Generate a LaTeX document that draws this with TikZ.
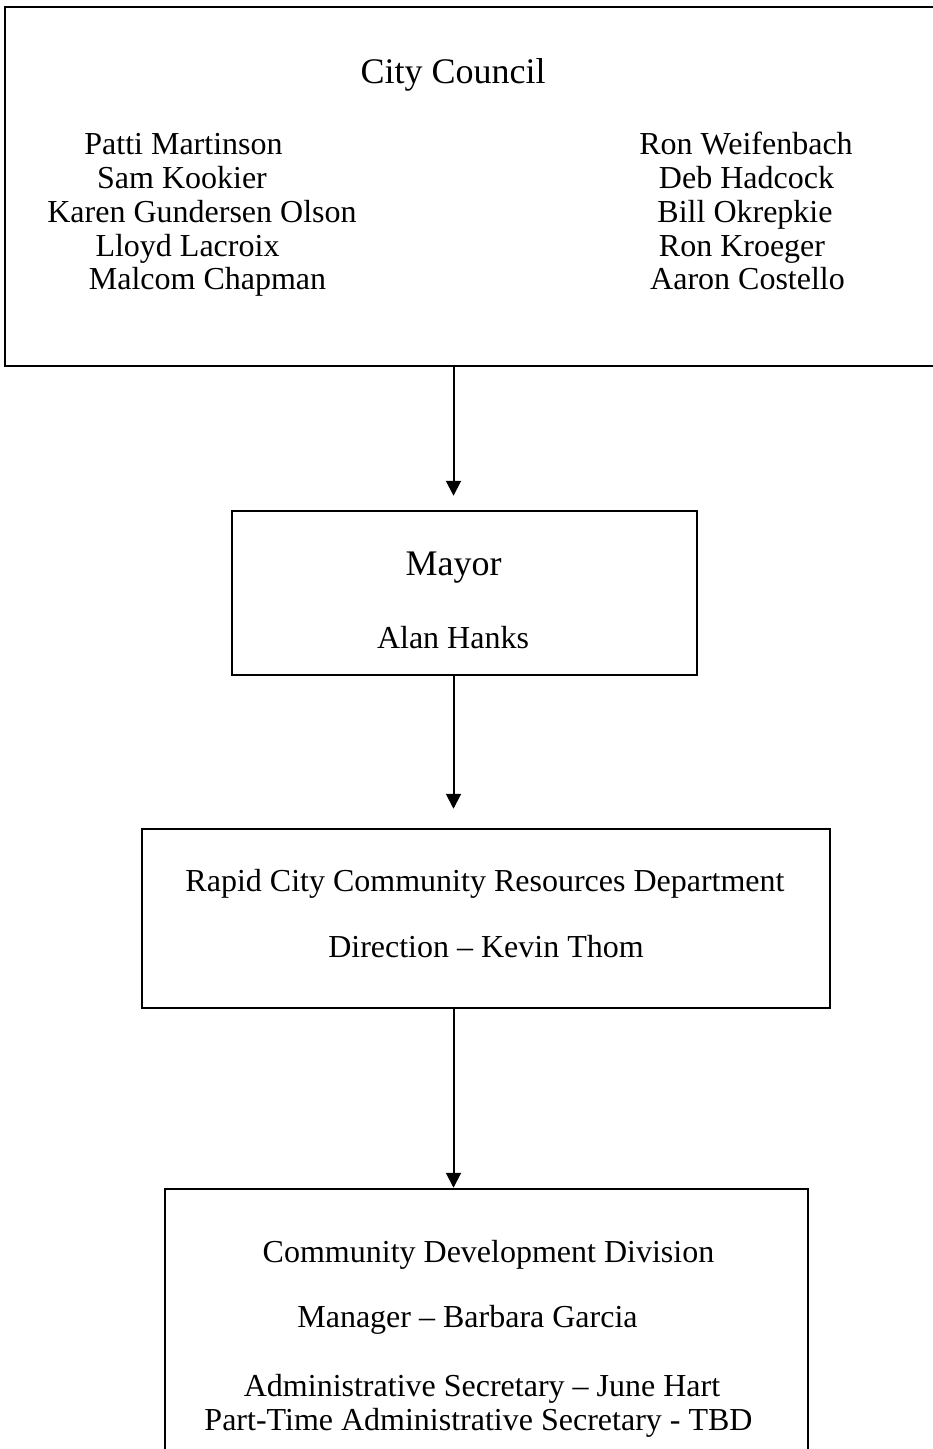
\documentclass[tikz,border=0pt]{standalone}
\usepackage{fontspec}
\setmainfont{Liberation Serif}
\usetikzlibrary{arrows.meta}

\begin{document}
\begin{tikzpicture}[x=0.5pt,y=-0.5pt]

      \tikzset{unit/.style={draw, line width=1.25pt, inner sep=0pt},
               txt/.style={anchor=base, inner sep=0pt, font=\fontsize{16}{17}\selectfont},
               head/.style={anchor=base, inner sep=0pt, font=\fontsize{18}{20}\selectfont},
               flow/.style={line width=1pt, -{Triangle[length=7.5pt,width=7.5pt]}}}
      \useasboundingbox (0,0) rectangle (932,1449);
%% Boxes
      	\node[unit, minimum width=470pt, minimum height=179.5pt] (council) at (475,186.5) {};
      	\node[unit, minimum width=232.5pt, minimum height=82pt] (mayor) at (464.5,593) {};
      	\node[unit, minimum width=344pt, minimum height=89.5pt] (dept) at (486,918.5) {};
      	\node[unit, minimum width=321.5pt, minimum height=135.5pt] (division) at (486.5,1324.5) {};
      	\coordinate (spine) at (453.5,0);

%% Texts
      	\node[head] (councilhead) at (453,84) {City Council};
      	\node[txt] (m1) at (183.5,155) {Patti Martinson};
      	\node[txt] (m2) at (182,189) {Sam Kookier};
      	\node[txt] (m3) at (202,223) {Karen Gundersen Olson};
      	\node[txt] (m4) at (187.5,257) {Lloyd Lacroix};
      	\node[txt] (m5) at (207.5,290) {Malcom Chapman};
      	\node[txt] (m6) at (746,155) {Ron Weifenbach};
      	\node[txt] (m7) at (746.5,189) {Deb Hadcock};
      	\node[txt] (m8) at (745,223) {Bill Okrepkie};
      	\node[txt] (m9) at (742,257) {Ron Kroeger};
      	\node[txt] (m10) at (747.5,290) {Aaron Costello};

      	\node[head] (mayorhead) at (453.5,575) {Mayor};
      	\node[txt] (mayorname) at (453,648) {Alan Hanks};

      	\node[txt] (depthead) at (485,891) {Rapid City Community Resources Department};
      	\node[txt] (deptname) at (486,957) {Direction -- Kevin Thom};

      	\node[txt] (divhead) at (488.5,1262) {Community Development Division};
      	\node[txt] (divmanager) at (467.5,1327) {Manager -- Barbara Garcia};
      	\node[txt] (divsec) at (482,1396) {Administrative Secretary -- June Hart};
      	\node[txt] (divpart) at (478.5,1430) {Part-Time Administrative Secretary - TBD};

%Edges
		\path (council.south -| spine) edge[flow, shorten >=7pt] (mayor.north -| spine);
		\path (mayor.south -| spine) edge[flow, shorten >=9.5pt] (dept.north -| spine);
		\path (dept.south -| spine) edge[flow] (division.north -| spine);
	\end{tikzpicture}
\end{document}
